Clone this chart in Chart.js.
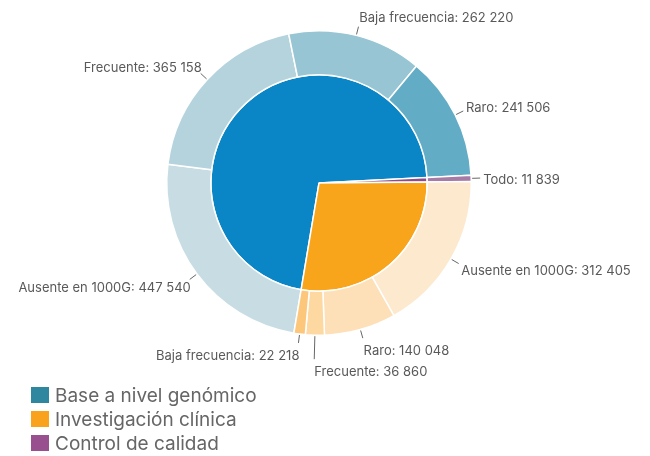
<!DOCTYPE html>
<html><head><meta charset="utf-8">
<script src="https://cdn.jsdelivr.net/npm/chart.js@4/dist/chart.umd.min.js"></script>
<style>
html,body{margin:0;padding:0;background:#fff}
#wrap{position:relative;width:650px;height:456px}
#legend{position:absolute;left:31px;top:383px;font:19px Inter,sans-serif;color:#666}
.item{display:flex;align-items:center;height:24px}
.sw{width:18px;height:16px;margin-right:6px}
</style></head>
<body><div id="wrap"><canvas id="c" width="650" height="456"></canvas><div id="legend"></div></div>
<script>
// inner ring: groups (legend order)
const groups=['Base a nivel genómico','Investigación clínica','Control de calidad'];
const groupColors=['#0a85c5','#f9a51c','#8e4c8b'];
const legendColors=['#2e879f','#f8a21d','#98508e'];
// clockwise drawing order of the groups
const ringOrder=[0,2,1];
// outer ring: subcategories (clockwise)
const subLabels=['Ausente en 1000G','Frecuente','Baja frecuencia','Raro','Todo','Ausente en 1000G','Raro','Frecuente','Baja frecuencia'];
const subValues=[447540,365158,262220,241506,11839,312405,140048,36860,22218];
const subGroup=[0,0,0,0,2,1,1,1,1];
const subColors=['#c8dde3','#b4d3dc','#97c5d3','#63acc6','#a67ba5','#fde9cd','#fde0b7','#fdd8a0','#fdc77b'];
const groupTotals=ringOrder.map(i=>subValues.filter((v,j)=>subGroup[j]===i).reduce((a,b)=>a+b,0));

const fmt=v=>String(v).replace(/\B(?=(\d{3})+(?!\d))/g,' ');

const outerLabels={id:'outerLabels',afterDraw(chart){
  const ctx=chart.ctx, meta=chart.getDatasetMeta(0), placed=[];
  ctx.save(); ctx.font='13px Inter, sans-serif'; ctx.textBaseline='middle';
  ctx.strokeStyle='#666'; ctx.fillStyle='#595959'; ctx.lineWidth=1;
  meta.data.forEach((arc,i)=>{
    const {x,y,startAngle,endAngle,outerRadius}=arc.getProps(['x','y','startAngle','endAngle','outerRadius'],true);
    const a=(startAngle+endAngle)/2, dx=Math.cos(a), dy=Math.sin(a);
    const text=subLabels[i]+': '+fmt(subValues[i]);
    const w=ctx.measureText(text).width, h=16, pad=5;
    const left=dx>-0.05;
    let box;
    for(let len=8;len<90;len++){
      const ex=x+dx*(outerRadius+1+len), ey=y+dy*(outerRadius+1+len);
      const tx=left? ex+Math.max(0,dx)*3 : ex+1;
      const ty=ey+dy*11+2;
      box={x0:left?tx:tx-w,x1:left?tx+w:tx,y0:ty-h/2,y1:ty+h/2,tx,ty,ex,ey};
      if(!placed.some(p=>box.x0<p.x1+pad&&box.x1>p.x0-pad&&box.y0<p.y1+pad&&box.y1>p.y0-pad)) break;
    }
    placed.push(box);
    ctx.beginPath();
    ctx.moveTo(x+dx*(outerRadius+1),y+dy*(outerRadius+1));
    ctx.lineTo(box.ex,box.ey); ctx.stroke();
    ctx.textAlign=left?'left':'right';
    ctx.fillText(text,box.tx,box.ty);
  });
  ctx.restore();
}};

new Chart(document.getElementById('c'),{
  type:'doughnut',
  data:{labels:subLabels,datasets:[
    {data:subValues,backgroundColor:subColors,borderColor:'#fff',borderWidth:1.5,weight:44},
    {data:groupTotals,backgroundColor:ringOrder.map(i=>groupColors[i]),borderColor:'#fff',borderWidth:1.5,weight:108}
  ]},
  options:{responsive:false,animation:false,rotation:189.5,cutout:0,
    layout:{padding:{left:166,right:178,top:30,bottom:120}},
    plugins:{legend:{display:false},tooltip:{enabled:false}}},
  plugins:[outerLabels]
});

const lg=document.getElementById('legend');
groups.forEach((g,i)=>{
  const d=document.createElement('div'); d.className='item';
  d.innerHTML=`<span class="sw" style="background:${legendColors[i]}"></span><span>${g}</span>`;
  lg.appendChild(d);
});
</script>
</body></html>
